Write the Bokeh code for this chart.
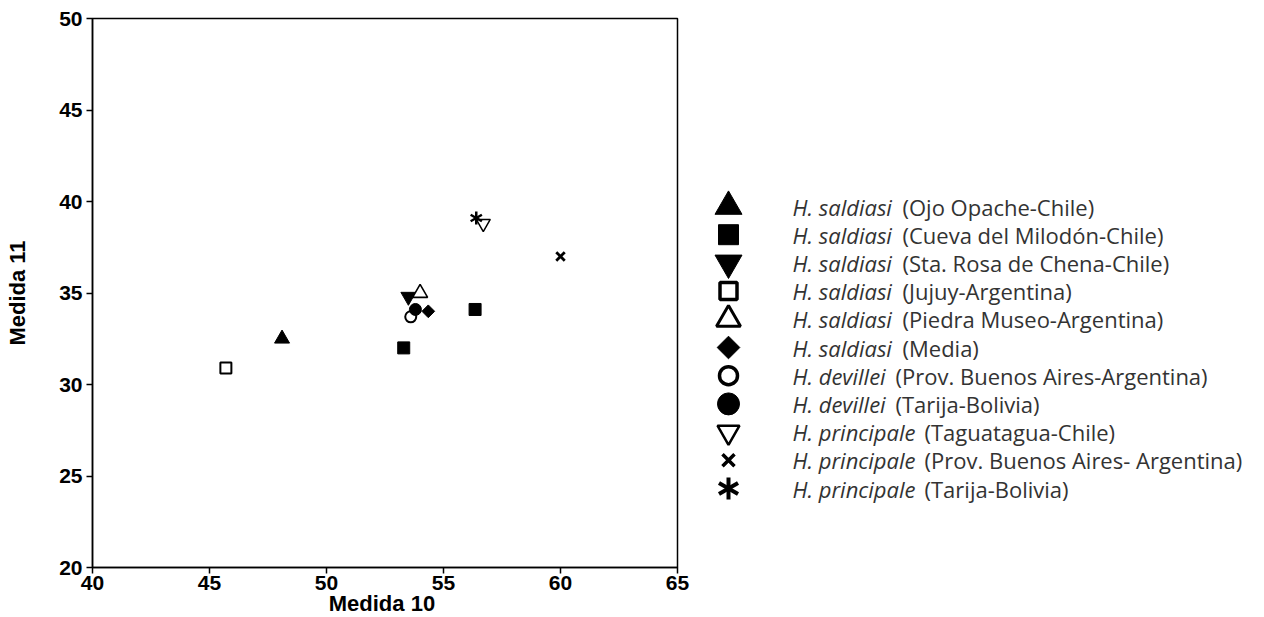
import math
from bokeh.plotting import figure
from bokeh.layouts import row
from bokeh.models import Range1d, FixedTicker
from bokeh.core.properties import value
from bokeh.embed import file_html
from bokeh.resources import INLINE

# ---- data ----
species = ["H. saldiasi", "H. saldiasi", "H. saldiasi", "H. saldiasi", "H. saldiasi", "H. saldiasi",
           "H. devillei", "H. devillei", "H. principale", "H. principale", "H. principale"]
localities = ["(Ojo Opache-Chile)", "(Cueva del Milodón-Chile)", "(Sta. Rosa de Chena-Chile)",
              "(Jujuy-Argentina)", "(Piedra Museo-Argentina)", "(Media)",
              "(Prov. Buenos Aires-Argentina)", "(Tarija-Bolivia)", "(Taguatagua-Chile)",
              "(Prov. Buenos Aires- Argentina)", "(Tarija-Bolivia)"]
# each point: group index (into species/localities), Medida 10, Medida 11
point_group = [0, 1, 1, 2, 3, 4, 5, 6, 7, 8, 9, 10]
medida10 = [48.1, 53.3, 56.35, 53.5, 45.7, 54.0, 54.35, 53.6, 53.8, 56.7, 60.0, 56.4]
medida11 = [32.5, 32.0, 34.1, 34.8, 30.9, 35.0, 34.0, 33.7, 34.1, 38.8, 37.0, 39.1]
x_ticks = [40, 45, 50, 55, 60, 65]
y_ticks = [20, 25, 30, 35, 40, 45, 50]

# ---- styles per group: (marker, filled, plot size, legend size, lw plot, lw legend, angle)
styles = [
    ("triangle", True, 15, 27, 1, 1, 0),
    ("square", True, 12, 20, 1, 1, 0),
    ("inverted_triangle", True, 15, 27, 1, 1, 0),
    ("square", False, 11, 17, 2, 3.5, 0),
    ("triangle", False, 15, 24, 1.6, 3, 0),
    ("square", True, 9, 16, 1, 1, math.pi / 4),
    ("circle", False, 11, 18, 2, 3.5, 0),
    ("circle", True, 12, 22, 1, 1, 0),
    ("inverted_triangle", False, 14, 22, 1.5, 2.5, 0),
    ("x", False, 12, 17, 2.8, 3.5, 0),
    ("asterisk6", False, 13, 22, 2.5, 4, 0),
]

BLACK = "black"
TOP, FRAME_H, LEFT, FRAME_W, RIGHT = 18, 549, 92, 585, 16
MAIN_W = LEFT + FRAME_W + RIGHT

p = figure(frame_width=FRAME_W, frame_height=FRAME_H, output_backend="svg", toolbar_location=None,
           x_range=Range1d(40, 65), y_range=Range1d(20, 50),
           min_border_left=LEFT, min_border_right=RIGHT, min_border_top=TOP, min_border_bottom=10)
p.grid.visible = False
p.outline_line_color = BLACK
p.outline_line_width = 1.5
p.background_fill_color = "white"
p.border_fill_color = "white"

for ax, ticks in ((p.xaxis, x_ticks), (p.yaxis, y_ticks)):
    ax.ticker = FixedTicker(ticks=ticks)
    ax.minor_tick_line_color = None
    ax.major_tick_in = 0
    ax.major_tick_out = 6
    ax.major_tick_line_width = 1.5
    ax.axis_line_width = 1.5
    ax.major_label_text_font = "Liberation Sans"
    ax.major_label_text_font_style = "bold"
    ax.major_label_text_font_size = "21px"
    ax.major_label_text_color = BLACK
    ax.axis_label_text_font = "Liberation Sans"
    ax.axis_label_text_font_style = "bold"
    ax.axis_label_text_font_size = "22px"
    ax.axis_label_text_color = BLACK

p.xaxis.axis_label = "Medida  10"
p.xaxis.major_label_standoff = 2
p.xaxis.axis_label_standoff = -2
p.yaxis.axis_label = "Medida 11"
p.yaxis.major_label_standoff = 4
p.yaxis.axis_label_standoff = 26


def draw_marker(fig, xs, ys, st, legend=False):
    marker, filled, s_plot, s_leg, lw_plot, lw_leg, ang = st
    size = s_leg if legend else s_plot
    lw = lw_leg if legend else lw_plot
    if marker == "asterisk6":
        for a in (math.pi / 2, math.pi / 6, -math.pi / 6):
            fig.scatter(xs, ys, marker="dash", size=size, angle=a,
                        line_color=BLACK, line_width=lw)
        return
    if marker == "x":
        fig.scatter(xs, ys, marker="x", size=size, line_color=BLACK, line_width=lw)
        return
    fig.scatter(xs, ys, marker=marker, size=size, angle=ang,
                fill_color=BLACK if filled else "white",
                line_color=BLACK, line_width=lw)


for g, st in enumerate(styles):
    xs = [medida10[i] for i in range(len(point_group)) if point_group[i] == g]
    ys = [medida11[i] for i in range(len(point_group)) if point_group[i] == g]
    draw_marker(p, xs, ys, st)

# ---- legend panel (its coordinates are page pixels) ----
LEG_W = 1262 - MAIN_W
lg = figure(frame_width=LEG_W, frame_height=FRAME_H, output_backend="svg", toolbar_location=None,
            x_range=Range1d(MAIN_W, MAIN_W + LEG_W), y_range=Range1d(TOP + FRAME_H, TOP),
            min_border_left=0, min_border_right=0, min_border_top=TOP, min_border_bottom=0,
            outline_line_color=None)
lg.axis.visible = False
lg.grid.visible = False

row0, row_step = 206, 28.2
marker_x, text_x = 728, 792
loc_offset = {"H. saldiasi": 110, "H. devillei": 103, "H. principale": 132}
FONT_SIZE = "22px"
for g, st in enumerate(styles):
    yy = row0 + g * row_step
    draw_marker(lg, [marker_x], [yy], st, legend=True)
    lg.text([text_x], [yy], text=[species[g]], text_font=value("Open Sans"),
            text_font_style="italic", text_font_size=FONT_SIZE, text_color="#333333",
            text_baseline="middle", text_align="left")
    lg.text([text_x + loc_offset[species[g]]], [yy], text=[localities[g]],
            text_font=value("Open Sans"), text_font_size=FONT_SIZE, text_color="#333333",
            text_baseline="middle", text_align="left")

layout = row(p, lg)
open("out.html", "w").write(file_html(layout, INLINE))
